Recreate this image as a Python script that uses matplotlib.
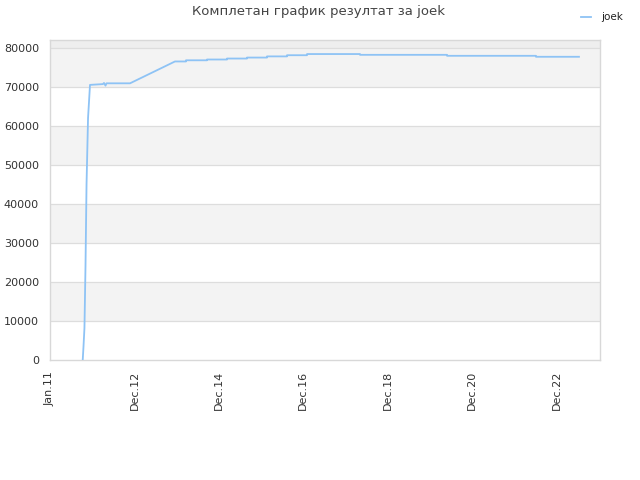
import matplotlib
matplotlib.use("Agg")
import matplotlib.pyplot as plt
import matplotlib.dates as mdates
from datetime import datetime, timedelta

start = datetime(2011, 1, 1)
# data: days since 2011-01-01, cumulative score
days = [283, 290, 298, 307, 316, 329, 337, 346, 458, 467, 480, 489, 692, 1081,
        1176, 1176, 1358, 1358, 1531, 1531, 1704, 1704, 1877, 1877, 2050, 2050,
        2223, 2223, 2681, 2681, 3434, 3434, 4203, 4203, 4575]
values = [0, 3600, 8200, 24000, 45000, 62000, 66000, 70500, 70700, 71000, 70300, 70900, 70900, 76500,
          76500, 76800, 76800, 77000, 77000, 77250, 77250, 77500, 77500, 77800, 77800, 78100,
          78100, 78400, 78400, 78200, 78200, 77950, 77950, 77700, 77700]
dates = [start + timedelta(days=d) for d in days]

tick_dates = [start + timedelta(days=730 * i) for i in range(7)]
tick_labels = [d.strftime("%b.%y") for d in tick_dates]
y_ticks = list(range(0, 80001, 10000))

fig = plt.figure(figsize=(6.4, 4.8), dpi=100)
ax = fig.add_axes([50 / 640, 1 - 360 / 480, 550 / 640, 320 / 480])

ymax = 82000
xmin = start
xmax = start + timedelta(days=4757)

# bands
for i, lo in enumerate(range(0, 80000, 10000)):
    if i % 2 == 1:
        ax.axhspan(lo, lo + 10000, color="#f3f3f3", zorder=0, lw=0)
ax.axhspan(80000, ymax, color="#eeeeee", zorder=0, lw=0)
for y in y_ticks[1:]:
    ax.axhline(y, color="#dddddd", lw=0.9, zorder=1)

ax.plot(dates, values, color="#8ec3f5", lw=1.3, zorder=3, label="joek")

ax.set_xlim(xmin, xmax)
ax.set_ylim(0, ymax)
ax.set_yticks(y_ticks)
ax.set_yticklabels([str(v) for v in y_ticks])
ax.set_xticks(tick_dates)
ax.set_xticklabels(tick_labels, rotation=90)
ax.tick_params(length=0, labelsize=8, colors="#333333", pad=8)
for s in ax.spines.values():
    s.set_color("#d8d8d8")
    s.set_linewidth(1)

fig.text(318 / 640, 1 - 12 / 480, "Комплетан график резултат за joek", ha="center", va="center",
         fontsize=9.5, color="#444444")
leg = fig.legend(loc="upper right", bbox_to_anchor=(632 / 640, 1 - 3 / 480), frameon=False,
                 fontsize=7.5, handlelength=1.0, handletextpad=0.9)
for t in leg.get_texts():
    t.set_color("#222222")

fig.savefig("out.png", dpi=100)
